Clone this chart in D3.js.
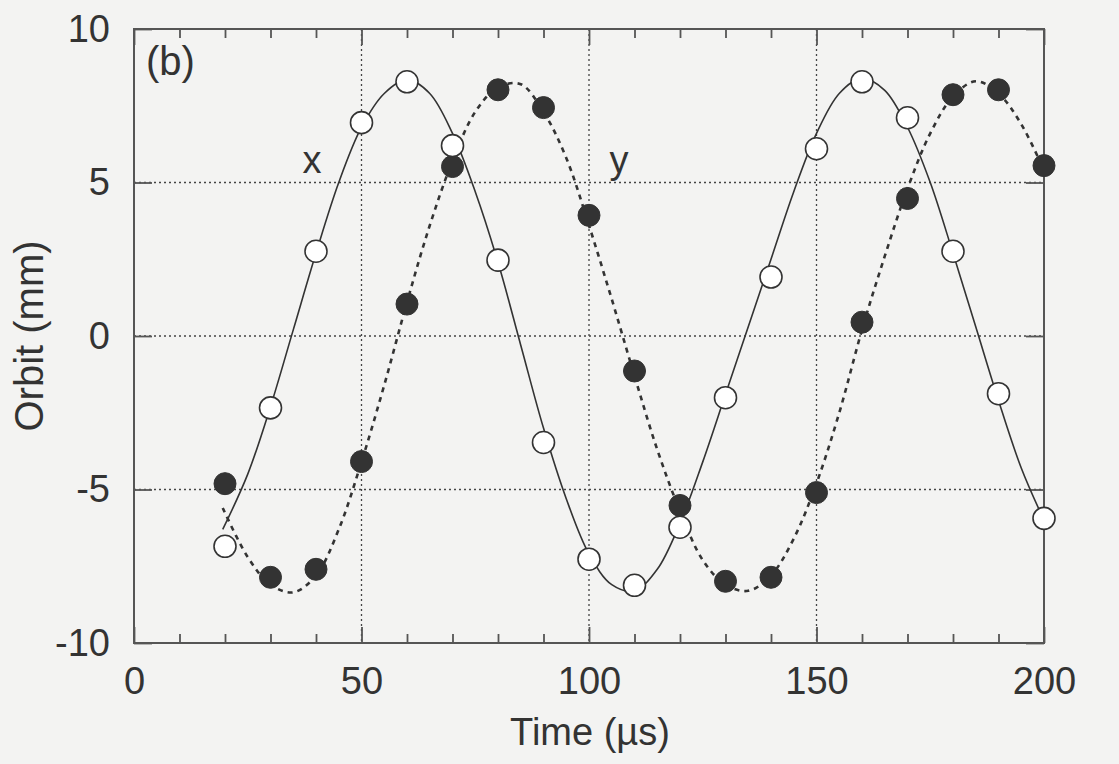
<!DOCTYPE html>
<html><head><meta charset="utf-8">
<script src="https://cdnjs.cloudflare.com/ajax/libs/d3/7.8.5/d3.min.js"></script>
<style>html,body{margin:0;padding:0;background:#f3f3f2;}svg{display:block;}</style>
</head><body>
<script>
// Measured samples (Time in µs, Orbit in mm)
const times = [20,30,40,50,60,70,80,90,100,110,120,130,140,150,160,170,180,190,200];
const xOrbit = [-6.85,-2.34,2.76,6.95,8.28,6.2,2.47,-3.47,-7.27,-8.12,-6.23,-2.01,1.92,6.1,8.28,7.11,2.76,-1.88,-5.94];
const yOrbit = [-4.81,-7.86,-7.6,-4.09,1.04,5.52,8.02,7.44,3.93,-1.14,-5.52,-7.99,-7.86,-5.1,0.45,4.48,7.86,8.02,5.55];
// Fitted curves
const fitTimes = [19.5,25,30,35,40,45,50,55,60,65,70,75,80,85,90,95,100,105,110,115,120,125,130,135,140,145,150,155,160,165,170,175,180,185,190,195,200];
const xFit = [-6.3,-4.5,-2.3,0.2,2.7,5.0,6.8,7.9,8.35,7.9,6.6,4.7,2.4,-0.3,-3.0,-5.3,-7.1,-8.1,-8.3,-7.6,-6.1,-4.1,-1.9,0.3,2.5,4.7,6.6,7.9,8.4,8.0,6.8,5.0,2.7,0.3,-2.1,-4.3,-6.0];
const yFit = [-5.6,-7.2,-8.1,-8.35,-7.8,-6.3,-4.1,-1.6,1.1,3.6,5.7,7.3,8.1,8.2,7.3,5.8,3.6,1.2,-1.3,-3.7,-5.7,-7.3,-8.1,-8.3,-7.8,-6.6,-4.8,-2.5,0.2,2.6,4.8,6.6,7.8,8.3,7.9,6.9,5.4];
const xTicks = [0,50,100,150,200];
const xMinorTicks = [10,20,30,40,60,70,80,90,110,120,130,140,160,170,180,190];
const yTicks = [-10,-5,0,5,10];
const gridX = [50,100,150];
const gridY = [-5,0,5];

const W = 1119, H = 764;
const L = 134, R = 1044, T = 29, B = 643;
const ink = "#333";
const font = "'Liberation Sans', Arial, sans-serif";
const FS = 38;

const svg = d3.select("body").append("svg").attr("width", W).attr("height", H);
svg.append("rect").attr("width", W).attr("height", H).attr("fill", "#f3f3f2");

const x = d3.scaleLinear().domain([0, 200]).range([L, R]);
const y = d3.scaleLinear().domain([-10, 10]).range([B, T]);

// grid
const g = svg.append("g");
g.selectAll(".gx").data(gridX).join("line")
  .attr("x1", d => x(d)).attr("x2", d => x(d)).attr("y1", T).attr("y2", B)
  .attr("stroke", "#444").attr("stroke-width", 1.3).attr("stroke-dasharray", "2,3");
g.selectAll(".gy").data(gridY).join("line")
  .attr("y1", d => y(d)).attr("y2", d => y(d)).attr("x1", L).attr("x2", R)
  .attr("stroke", "#444").attr("stroke-width", 1.3).attr("stroke-dasharray", "2,3");

const fmt = d => String(d);
// axes with inward ticks
const axB = d3.axisBottom(x).tickValues(xMinorTicks).tickSize(-9).tickFormat("");
const axT = d3.axisTop(x).tickValues(xMinorTicks).tickSize(-9).tickFormat("");
const axBM = d3.axisBottom(x).tickValues(xTicks).tickSize(-16).tickPadding(24).tickFormat(fmt);
const axTM = d3.axisTop(x).tickValues(xTicks).tickSize(-16).tickFormat("");
const axL = d3.axisLeft(y).tickValues(yTicks).tickSize(-18).tickPadding(24).tickFormat(fmt);
const axR = d3.axisRight(y).tickValues(yTicks).tickSize(-18).tickFormat("");

function style(sel) {
  sel.select(".domain").remove();
  sel.selectAll("line").attr("stroke", "#555").attr("stroke-width", 1.8);
  sel.selectAll("text").attr("fill", ink).style("font-family", font).style("font-size", FS + "px");
}
svg.append("g").attr("transform", `translate(0,${B})`).call(axB).call(style);
svg.append("g").attr("transform", `translate(0,${T})`).call(axT).call(style);
svg.append("g").attr("transform", `translate(0,${B})`).call(axBM).call(style);
svg.append("g").attr("transform", `translate(0,${T})`).call(axTM).call(style);
svg.append("g").attr("transform", `translate(${L},0)`).call(axL).call(style);
svg.append("g").attr("transform", `translate(${R},0)`).call(axR).call(style);

// frame
svg.append("rect").attr("x", L).attr("y", T).attr("width", R - L).attr("height", B - T)
  .attr("fill", "none").attr("stroke", "#555").attr("stroke-width", 2);

// fitted curves
const line = d3.line().x(d => x(d[0])).y(d => y(d[1])).curve(d3.curveCatmullRom);
svg.append("path").datum(fitTimes.map((t, i) => [t, xFit[i]]))
  .attr("d", line).attr("fill", "none").attr("stroke", ink).attr("stroke-width", 1.6);
svg.append("path").datum(fitTimes.map((t, i) => [t, yFit[i]]))
  .attr("d", line).attr("fill", "none").attr("stroke", ink).attr("stroke-width", 2.6)
  .attr("stroke-dasharray", "5,5");

// markers
svg.append("g").selectAll("circle").data(times.map((t, i) => [t, yOrbit[i]])).join("circle")
  .attr("cx", d => x(d[0])).attr("cy", d => y(d[1])).attr("r", 11)
  .attr("fill", ink).attr("stroke", ink).attr("stroke-width", 1);
svg.append("g").selectAll("circle").data(times.map((t, i) => [t, xOrbit[i]])).join("circle")
  .attr("cx", d => x(d[0])).attr("cy", d => y(d[1])).attr("r", 11)
  .attr("fill", "#fff").attr("stroke", ink).attr("stroke-width", 1.6);

// text labels
const txt = (s, tx, ty, size, anchor) => svg.append("text").text(s).attr("x", tx).attr("y", ty)
  .attr("fill", ink).style("font-family", font).style("font-size", size + "px").attr("text-anchor", anchor || "start");
txt("(b)", 146, 75, 40);
txt("x", 312, 173, FS, "middle");
txt("y", 619, 173, FS, "middle");
txt("Time (µs)", 590, 745, FS, "middle");
svg.append("text").text("Orbit (mm)")
  .attr("transform", `translate(43,${(T + B) / 2}) rotate(-90)`)
  .attr("text-anchor", "middle").attr("fill", ink)
  .style("font-family", font).style("font-size", "40px");
</script>
</body></html>
